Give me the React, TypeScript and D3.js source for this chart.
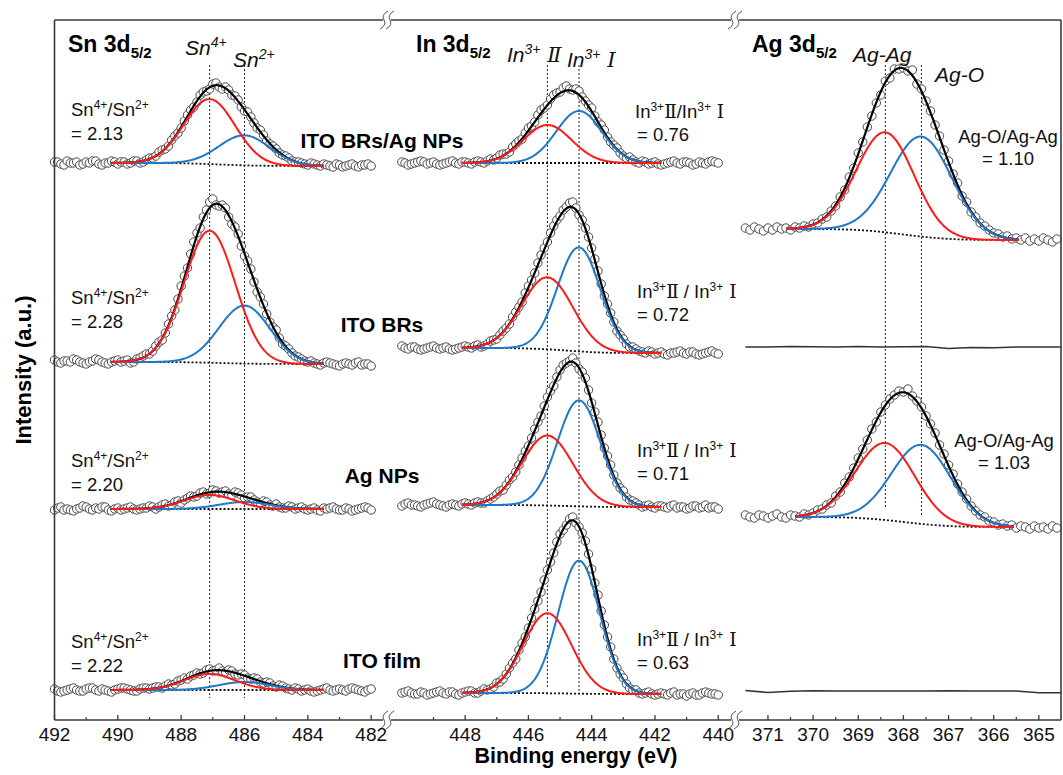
import React from "react";
import * as d3 from "d3";

const FONT = "Arial, 'Liberation Sans', 'Noto Sans CJK SC', sans-serif";
const ROMAN = "'DejaVu Serif', 'Liberation Serif', serif";

// ---------- energy grids (binding energy, eV) ----------
const snEnergy = d3.range(101).map((i) => 492 - 0.1 * i);
const inEnergy = d3.range(101).map((i) => 450 - 0.1 * i);
const agEnergy = d3.range(70).map((i) => 371.5 - 0.1 * i);
const agLineEnergy = d3.range(15).map((i) => 371.5 - 0.5 * i);

// ---------- sample names / ratios ----------
const samples = ["ITO BRs/Ag NPs", "ITO BRs", "Ag NPs", "ITO film"];
const snRatios = ["2.13", "2.28", "2.20", "2.22"];
const inRatios = ["0.76", "0.72", "0.71", "0.63"];
const agRatios = ["1.10", "1.03"];

// ---------- measured intensities (a.u., relative to each trace's base) ----------
const snBRsAgNPs = [1,1,-1,-2,2,0,0,1,-2,-1, 1,0,2,2,-1,-2,0,0,2,1, -1,1,1,-1,0,2,2,0,1,3, 5,5,7,11,13,14,17,23,27,30, 35,42,48,53,56,61,68,71,72,74, 79,80,76,74,76,73,68,67,63,56, 52,51,46,40,35,33,28,22,19,17, 14,10,8,7,5,2,1,1,0,-1, -2,0,-1,-2,-3,-1,-2,-3,-4,-1, -2,-4,-3,-2,-1,-3,-4,-2,-2,-1, -3];
const snBRs = [2,0,-1,1,1,0,3,2,0,-1, -2,0,1,3,2,0,-1,-2,0,1, 2,0,1,2,-1,0,3,4,6,8, 8,11,16,20,22,29,38,46,52,63, 76,86,94,108,120,129,134,145,152,160, 163,157,156,157,154,145,138,135,128,116, 106,101,93,80,70,65,58,48,40,35, 32,24,18,16,13,9,6,5,3,1, 0,1,-1,-2,-3,-1,0,-1,-2,-3, -4,-2,-1,-2,-3,-1,0,-3,-2,-2, -4];
const snAgNPs = [-1,1,2,-1,0,-1,-2,0,1,3, 2,0,-1,1,0,2,2,-1,-2,0, 1,-1,0,1,2,0,-1,0,1,1, 3,2,0,2,4,5,3,4,7,8, 6,9,11,13,12,13,16,17,15,16, 19,18,16,17,18,15,14,17,16,14, 11,12,12,9,7,6,8,7,4,3, 5,2,1,1,3,2,0,1,2,0, -1,0,1,-1,-2,1,0,1,2,0, -1,-1,1,0,-2,-1,0,1,2,1, -1];
const snFilm = [1,-1,-2,-1,0,1,2,0,-1,-1, 1,2,2,0,-1,1,0,-1,-2,0, 1,2,2,1,0,-1,-1,1,2,2, 1,2,3,3,2,4,6,5,6,9, 10,12,11,14,15,17,16,17,20,21, 19,20,22,19,18,20,19,16,15,16, 15,12,11,12,11,8,7,8,7,4, 3,5,4,2,1,0,2,1,-1,0, 1,-1,-2,-1,0,1,2,0,-1,0, 1,0,-1,1,2,1,0,-1,-2,0, 1];

const inBRsAgNPs = [1,0,-2,-1,0,1,2,1,-1,0, 1,-1,-2,-1,0,1,2,0,-1,1, 1,0,-1,1,2,1,0,2,4,3, 5,8,9,9,11,16,19,22,24,30, 35,37,41,48,53,55,58,64,68,70, 71,75,77,74,73,74,72,66,62,58, 55,47,41,38,33,26,21,18,15,10, 7,5,6,3,1,0,2,1,-1,0, 1,-1,-2,-1,0,1,2,0,-1,1, 1,0,-2,-1,1,0,-1,1,2,1, 0];
const inBRs = [2,0,-1,1,1,-1,-2,-1,0,1, 2,0,-1,0,1,-1,-2,-1,0,1, 2,1,0,2,3,1,2,4,7,8, 9,13,17,20,24,31,36,41,46,55, 62,68,75,85,93,100,106,115,122,128, 132,138,141,145,146,140,133,128,120,111, 100,89,77,64,52,44,35,26,17,13, 9,4,1,1,-1,-3,-4,-5,-3,-4, -6,-5,-4,-6,-7,-5,-5,-4,-3,-5, -6,-4,-4,-6,-7,-6,-5,-4,-3,-5, -6];
const inAgNPs = [-1,1,2,0,0,-1,-2,0,1,2, 3,1,0,-1,-2,0,1,0,-1,1, 2,1,0,2,3,2,2,4,6,8, 11,14,15,20,25,28,33,40,47,54, 59,67,76,83,89,99,108,114,119,128, 135,140,142,144,147,142,136,133,127,115, 102,93,83,70,57,49,40,30,22,17, 14,8,5,4,2,0,-2,-1,0,-2, -3,-1,-1,-2,-3,-1,0,-3,-2,-2, -4,-3,-1,-1,-3,-2,0,-3,-2,-2, -4];
const inFilm = [0,1,2,0,-1,-1,1,0,-2,-1, 0,1,2,0,-1,1,1,-1,-2,0, 1,2,2,0,0,2,4,3,4,6, 10,11,14,19,25,30,34,43,50,56, 65,75,84,92,101,113,123,131,140,151, 159,163,168,174,176,170,166,160,152,139, 124,110,98,82,68,56,46,34,25,19, 15,9,5,3,3,0,-1,0,1,-1, -2,-1,0,-1,-2,0,1,-2,-1,-1, -3,-1,0,-2,-2,0,1,0,-1,-1, -2];

const agBRsAgNPs = [1,-1,2,0,-2,1, -1,2,0,1,-1,2,1,3,2,5, 6,10,12,18,23,32,39,52,61,76, 87,102,113,126,134,148,151,160,160,161, 158,159,145,140,128,118,104,93,79,68, 55,46,33,27,17,12,6,3,-1,-4, -5,-8,-7,-10,-9,-11,-9,-12,-10,-12, -9,-11,-13,-10];
const agAgNPs = [2,0,-1,2,1,-1, 1,3,0,-1,2,1,0,3,2,4, 7,8,12,14,21,25,34,40,49,59, 68,77,88,95,105,112,118,122,126,125, 128,121,116,110,101,93,84,72,63,52, 43,33,25,18,11,6,2,0,-4,-5, -8,-7,-9,-8,-11,-9,-10,-12,-9,-11, -10,-12,-9,-11];
const agBRsLine = [0, 0, 0.5, 0.3, 0, 0.5, 0, 0.3, 0.5, -1.5, -0.5, -0.8, 0, 0, 0];
const agFilmLine = [0.5, -1.5, -0.3, 0.3, 0, 0, 0, 0, 0, 0.3, 0, 0, 0, -1.8, -1.8];

// ---------- stacking offsets (a.u.) ----------
const snOffsets = [557, 358, 211, 30];
const inOffsets = [557, 372, 215, 27];
const agOffsets = [491, 203];
const agLineOffsets = [373, 29];

// ---------- peak-fit parameters (centre eV, height a.u., FWHM eV) ----------
const snCenters = [487.1, 486.0];
const snRedAmp = [65, 132, 14, 16];
const snBlueAmp = [30, 58, 7, 8];
const snRedFwhm = [1.9, 1.9, 1.9, 1.9];
const snBlueFwhm = [1.9, 1.9, 1.9, 1.9];
const snBgRight = [-3, -2, 0, 0];
const snFitRange = [490.2, 483.5];

const inCenters = [445.4, 444.4];
const inRedAmp = [38, 72, 70, 80];
const inBlueAmp = [52, 104, 106, 133];
const inRedFwhm = [1.8, 1.9, 1.9, 1.8];
const inBlueFwhm = [1.7, 1.6, 1.6, 1.55];
const inBgRight = [0, -5, -2, -1];
const inFitRange = [448.1, 441.8];

const agCenters = [368.4, 367.6];
const agRedAmp = [100, 77];
const agBlueAmp = [100, 79];
const agRedFwhm = [1.5, 1.55];
const agBlueFwhm = [1.6, 1.55];
const agBgRight = [-11, -10];
const agFitStart = [370.6, 370.4];
const agFitEnd = [365.45, 365.55];

// ---------- axis ticks ----------
const snMajor = [492, 490, 488, 486, 484, 482];
const snMinor = [491, 489, 487, 485, 483];
const inMajor = [448, 446, 444, 442, 440];
const inMinor = [449, 447, 445, 443, 441];
const agMajor = [371, 370, 369, 368, 367, 366, 365];
const agMinor = [370.5, 369.5, 368.5, 367.5, 366.5, 365.5];

type Peak = { c: number; a: number; w: number };
type Spec = {
  energies: number[];
  values: number[];
  offset: number;
  red: Peak;
  blue: Peak;
  bgRight: number;
  fit: number[];
};

function gauss(e: number, p: Peak) {
  return p.a * Math.exp((-4 * Math.LN2 * (e - p.c) * (e - p.c)) / (p.w * p.w));
}

function buildFit(s: Spec) {
  const [e0, e1] = s.fit;
  const n = 300;
  const pts = d3.range(n + 1).map((i) => e0 + ((e1 - e0) * i) / n);
  const r = pts.map((e) => gauss(e, s.red));
  const b = pts.map((e) => gauss(e, s.blue));
  const cum = new Array(n + 1).fill(0);
  for (let i = n - 1; i >= 0; i--) cum[i] = cum[i + 1] + (r[i] + b[i] + r[i + 1] + b[i + 1]) / 2;
  const tot = cum[0] || 1;
  return pts.map((e, i) => {
    const bg = s.bgRight * (1 - cum[i] / tot);
    return { e, bg, red: bg + r[i], blue: bg + b[i], sum: bg + r[i] + b[i] };
  });
}

const snSpectra: Spec[] = [snBRsAgNPs, snBRs, snAgNPs, snFilm].map((v, i) => ({
  energies: snEnergy,
  values: v,
  offset: snOffsets[i],
  red: { c: snCenters[0], a: snRedAmp[i], w: snRedFwhm[i] },
  blue: { c: snCenters[1], a: snBlueAmp[i], w: snBlueFwhm[i] },
  bgRight: snBgRight[i],
  fit: snFitRange,
}));
const inSpectra: Spec[] = [inBRsAgNPs, inBRs, inAgNPs, inFilm].map((v, i) => ({
  energies: inEnergy,
  values: v,
  offset: inOffsets[i],
  red: { c: inCenters[0], a: inRedAmp[i], w: inRedFwhm[i] },
  blue: { c: inCenters[1], a: inBlueAmp[i], w: inBlueFwhm[i] },
  bgRight: inBgRight[i],
  fit: inFitRange,
}));
const agSpectra: Spec[] = [agBRsAgNPs, agAgNPs].map((v, i) => ({
  energies: agEnergy,
  values: v,
  offset: agOffsets[i],
  red: { c: agCenters[0], a: agRedAmp[i], w: agRedFwhm[i] },
  blue: { c: agCenters[1], a: agBlueAmp[i], w: agBlueFwhm[i] },
  bgRight: agBgRight[i],
  fit: [agFitStart[i], agFitEnd[i]],
}));

const RED = "#ff1a1a";
const BLUE = "#1f78c8";

function SpectrumView({ s, x, y }: { s: Spec; x: d3.ScaleLinear<number, number>; y: d3.ScaleLinear<number, number> }) {
  const fit = buildFit(s);
  const mk = (key: "bg" | "red" | "blue" | "sum") =>
    d3.line<any>().x((d) => x(d.e)).y((d) => y(s.offset + d[key]))(fit) || "";
  return (
    <g>
      {s.values.map((v, i) => (
        <circle key={i} cx={x(s.energies[i])} cy={y(s.offset + v)} r={4.2} fill="#fff" stroke="#4a4a4a" strokeWidth={1} />
      ))}
      <path d={mk("bg")} fill="none" stroke="#111" strokeWidth={1.8} strokeDasharray="2 2" />
      <path d={mk("sum")} fill="none" stroke="#000" strokeWidth={2.2} />
      <path d={mk("blue")} fill="none" stroke={BLUE} strokeWidth={2} />
      <path d={mk("red")} fill="none" stroke={RED} strokeWidth={2} />
    </g>
  );
}

function Breaker({ cx, cy }: { cx: number; cy: number }) {
  return (
    <g stroke="#555" strokeWidth={1} fill="none">
      {[-3, 3].map((dx) => (
        <path
          key={dx}
          d={`M ${cx + dx - 4} ${cy + 9} Q ${cx + dx + 3} ${cy + 5} ${cx + dx} ${cy} Q ${cx + dx - 3} ${cy - 5} ${cx + dx + 4} ${cy - 9}`}
        />
      ))}
    </g>
  );
}

export default function App() {
  const top = 20, bottom = 720, left = 54.5, right = 1061;
  const b1 = 387, b2 = 735;
  const snX = d3.scaleLinear().domain([492, 481.5]).range([left, b1]);
  const inX = d3.scaleLinear().domain([450.47, 439.47]).range([b1, b2]);
  const agX = d3.scaleLinear().domain([371.73, 364.51]).range([b2, right]);
  const y = d3.scaleLinear().domain([0, 700]).range([bottom, top]);

  const axisStroke = "#3a3a3a";
  const gap = 4;
  const segs = [
    [left, b1 - gap],
    [b1 + gap, b2 - gap],
    [b2 + gap, right],
  ];

  const tickSets: [d3.ScaleLinear<number, number>, number[], number[]][] = [
    [snX, snMajor, snMinor],
    [inX, inMajor, inMinor],
    [agX, agMajor, agMinor],
  ];

  const refLines: [d3.ScaleLinear<number, number>, number, number, number][] = [
    [snX, snCenters[0], 655, 22],
    [snX, snCenters[1], 655, 22],
    [inX, inCenters[0], 655, 32],
    [inX, inCenters[1], 655, 28],
    [agX, agCenters[0], 655, 212],
    [agX, agCenters[1], 655, 203],
  ];

  const agLine = (vals: number[], off: number) =>
    d3.line<number>().x((_, i) => agX(agLineEnergy[i])).y((v) => y(off + v))(vals) || "";

  const sampleY = [148, 332, 483, 668];
  const snRatioY = [116, 304, 467, 648];
  const inRatioY = [118, 298, 457, 646];
  const agRatioY = [143, 447];
  const agRatioX = [1008, 1004];

  return (
    <svg width={1063} height={775} style={{ position: "absolute", left: 0, top: 0, background: "#fff" }} fontFamily={FONT}>
      <rect width={1063} height={775} fill="#fff" />

      {/* reference dotted lines */}
      {refLines.map(([sx, e, y0, y1], i) => (
        <line key={i} x1={sx(e)} x2={sx(e)} y1={y(y0)} y2={y(y1)} stroke="#222" strokeWidth={1} strokeDasharray="2 2" />
      ))}

      {/* spectra */}
      {snSpectra.map((s, i) => <SpectrumView key={"sn" + i} s={s} x={snX} y={y} />)}
      {inSpectra.map((s, i) => <SpectrumView key={"in" + i} s={s} x={inX} y={y} />)}
      {agSpectra.map((s, i) => <SpectrumView key={"ag" + i} s={s} x={agX} y={y} />)}
      <path d={agLine(agBRsLine, agLineOffsets[0])} fill="none" stroke="#333" strokeWidth={1.6} />
      <path d={agLine(agFilmLine, agLineOffsets[1])} fill="none" stroke="#333" strokeWidth={1.6} />

      {/* frame */}
      <g stroke={axisStroke} strokeWidth={1.6}>
        <line x1={left} x2={left} y1={top} y2={bottom} />
        <line x1={right} x2={right} y1={top} y2={bottom} />
        {segs.map(([a, b], i) => (
          <g key={i}>
            <line x1={a} x2={b} y1={top} y2={top} />
            <line x1={a} x2={b} y1={bottom} y2={bottom} />
          </g>
        ))}
      </g>
      <Breaker cx={b1} cy={top} />
      <Breaker cx={b2} cy={top} />
      <Breaker cx={b1} cy={bottom} />
      <Breaker cx={b2} cy={bottom} />

      {/* ticks */}
      {tickSets.map(([sx, major, minor], k) => (
        <g key={k}>
          {major.map((t) => (
            <g key={"M" + t}>
              <line x1={sx(t)} x2={sx(t)} y1={bottom} y2={bottom - 5} stroke={axisStroke} strokeWidth={1.3} />
              <text x={sx(t)} y={741} fontSize={19} textAnchor="middle" fill="#111">
                {t}
              </text>
            </g>
          ))}
          {minor.map((t) => (
            <line key={"m" + t} x1={sx(t)} x2={sx(t)} y1={bottom} y2={bottom - 3} stroke={axisStroke} strokeWidth={1.2} />
          ))}
        </g>
      ))}

      {/* axis titles */}
      <text x={576} y={763} fontSize={21.5} fontWeight="bold" textAnchor="middle" fill="#000">
        Binding energy (eV)
      </text>
      <text transform="translate(31,370) rotate(-90)" fontSize={22} fontWeight="bold" textAnchor="middle" fill="#000">
        Intensity (a.u.)
      </text>

      {/* panel headings */}
      {[
        ["Sn 3d", 68],
        ["In 3d", 416],
        ["Ag 3d", 752],
      ].map(([t, xx]) => (
        <text key={t as string} x={xx as number} y={52} fontSize={23} fontWeight="bold" fill="#000">
          {t}
          <tspan fontSize={15} dy={6}>5/2</tspan>
        </text>
      ))}

      {/* peak labels */}
      <g fontSize={21} fontStyle="italic" fill="#111">
        <text x={185} y={55}>
          Sn<tspan fontSize={14} dy={-8}>4+</tspan>
        </text>
        <text x={233} y={67}>
          Sn<tspan fontSize={14} dy={-8}>2+</tspan>
        </text>
        <text x={507} y={62}>
          In<tspan fontSize={14} dy={-8}>3+</tspan>
          <tspan dy={8} fontFamily={ROMAN}> Ⅱ</tspan>
        </text>
        <text x={567} y={67}>
          In<tspan fontSize={14} dy={-8}>3+</tspan>
          <tspan dy={8} fontFamily={ROMAN}> Ⅰ</tspan>
        </text>
        <text x={853} y={62}>Ag-Ag</text>
        <text x={935} y={82}>Ag-O</text>
      </g>

      {/* sample labels */}
      {samples.map((s, i) => (
        <text key={s} x={382} y={sampleY[i]} fontSize={21} fontWeight="bold" textAnchor="middle" fill="#000">
          {s}
        </text>
      ))}

      {/* ratio labels */}
      <g fontSize={18.5} fill="#111">
        {snRatios.map((r, i) => (
          <g key={"snr" + i}>
            <text x={71} y={snRatioY[i]}>
              Sn<tspan fontSize={12} dy={-7}>4+</tspan>
              <tspan dy={7}>/Sn</tspan>
              <tspan fontSize={12} dy={-7}>2+</tspan>
            </text>
            <text x={71} y={snRatioY[i] + 24}>= {r}</text>
          </g>
        ))}
        {inRatios.map((r, i) => (
          <g key={"inr" + i}>
            <text x={i === 0 ? 635 : 637} y={inRatioY[i]}>
              In<tspan fontSize={12} dy={-7}>3+</tspan>
              <tspan dy={7} fontFamily={ROMAN}>Ⅱ</tspan>
              <tspan>{i === 0 ? "/In" : " / In"}</tspan>
              <tspan fontSize={12} dy={-7}>3+</tspan>
              <tspan dy={7} fontFamily={ROMAN}> Ⅰ</tspan>
            </text>
            <text x={637} y={inRatioY[i] + 23}>= {r}</text>
          </g>
        ))}
        {agRatios.map((r, i) => (
          <g key={"agr" + i} textAnchor="middle">
            <text x={agRatioX[i]} y={agRatioY[i]}>Ag-O/Ag-Ag</text>
            <text x={agRatioX[i]} y={agRatioY[i] + 22}>= {r}</text>
          </g>
        ))}
      </g>
    </svg>
  );
}
